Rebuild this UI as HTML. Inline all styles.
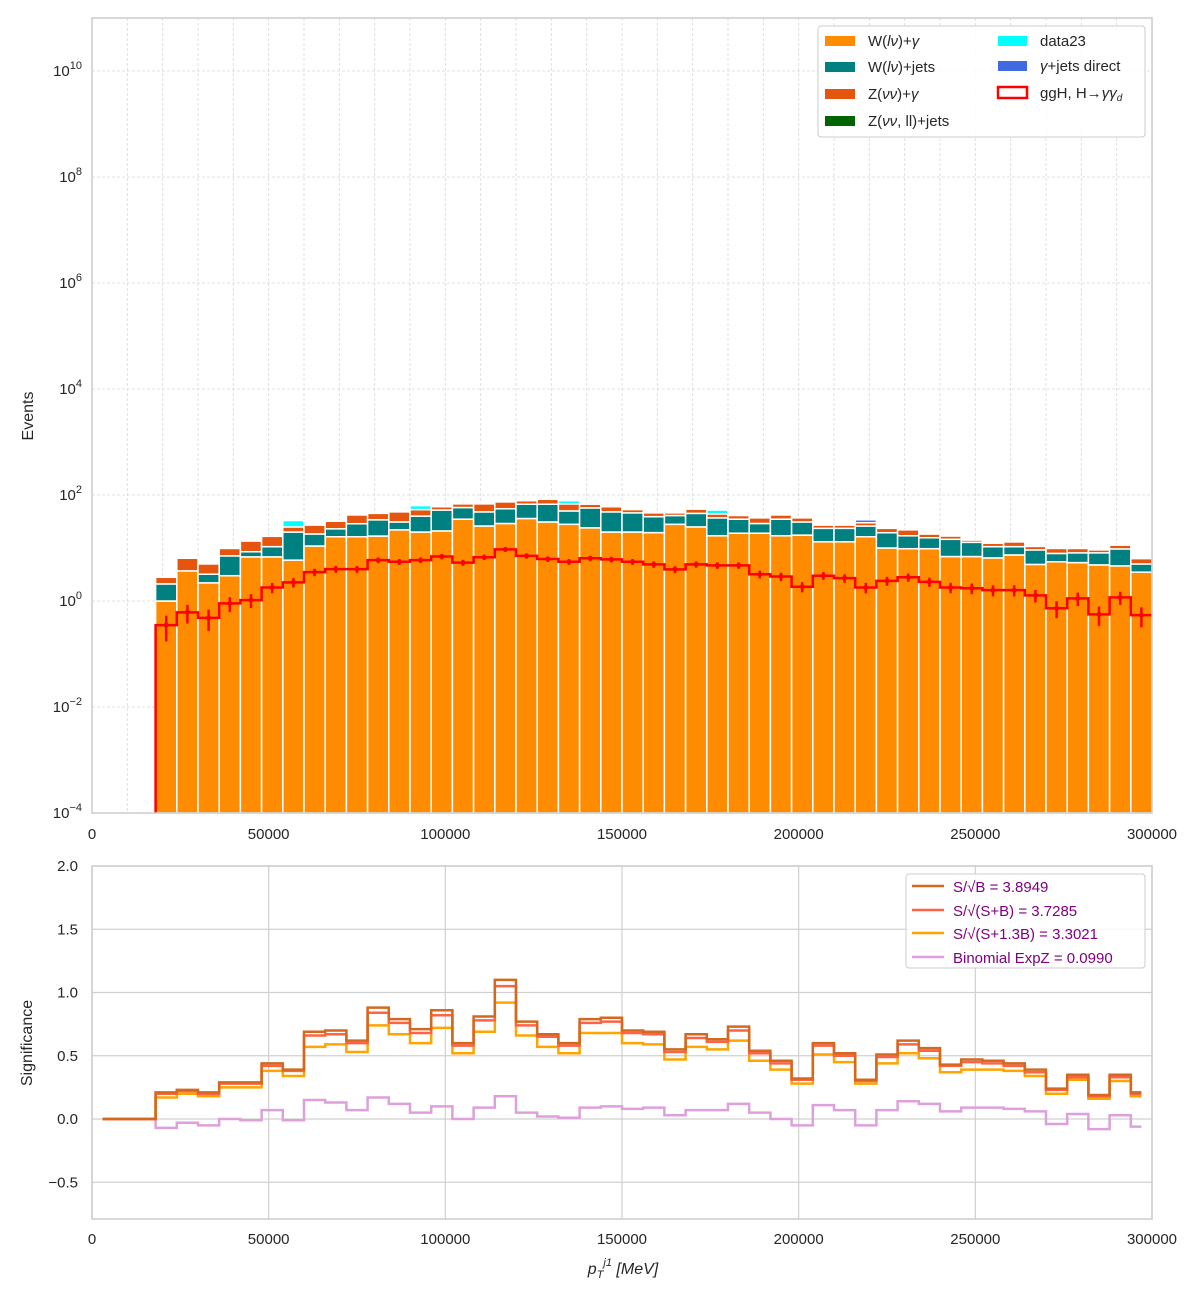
<!DOCTYPE html>
<html><head><meta charset="utf-8"><style>
html,body{margin:0;padding:0;background:#fff;}
svg{display:block;font-family:"Liberation Sans","DejaVu Sans",sans-serif;}
.tick{font-size:15px;fill:#262626;}
</style></head><body>
<svg id="chart" width="1200" height="1300" viewBox="0 0 1200 1300" xmlns="http://www.w3.org/2000/svg">
<rect x="0" y="0" width="1200" height="1300" fill="#fff"/>
<g id="top-grid"></g>
<g id="top-bars"></g>
<g id="top-signal"></g>
<rect x="92" y="18" width="1060" height="795" fill="none" stroke="#ccc" stroke-width="1.5"/>
<g id="top-ticks"></g>
<text x="33" y="416" transform="rotate(-90 33 416)" text-anchor="middle" font-size="16" fill="#262626">Events</text>

<g id="top-legend">
<rect x="818" y="26" width="327" height="111" rx="3" fill="#fff" fill-opacity="0.85" stroke="#ccc"/>
<rect x="825" y="36" width="30" height="10" fill="#ff8c00"/>
<text x="868" y="46" font-size="15" fill="#262626">W(<tspan font-style="italic">lν</tspan>)+<tspan font-style="italic">γ</tspan></text>
<rect x="825" y="62" width="30" height="10" fill="#008080"/>
<text x="868" y="72" font-size="15" fill="#262626">W(<tspan font-style="italic">lν</tspan>)+jets</text>
<rect x="825" y="89" width="30" height="10" fill="#e6550d"/>
<text x="868" y="99" font-size="15" fill="#262626">Z(<tspan font-style="italic">νν</tspan>)+<tspan font-style="italic">γ</tspan></text>
<rect x="825" y="116" width="30" height="10" fill="#006400"/>
<text x="868" y="126" font-size="15" fill="#262626">Z(<tspan font-style="italic">νν</tspan>, ll)+jets</text>
<rect x="998" y="36" width="29" height="10" fill="#00ffff"/>
<text x="1040" y="46" font-size="15" fill="#262626">data23</text>
<rect x="998" y="61" width="29" height="10" fill="#4169e1"/>
<text x="1040" y="71" font-size="15" fill="#262626"><tspan font-style="italic">γ</tspan>+jets direct</text>
<rect x="998" y="87" width="29" height="11" fill="#fff" stroke="#ff0000" stroke-width="2.5"/>
<text x="1040" y="98" font-size="15" fill="#262626">ggH, H→<tspan font-style="italic">γγ</tspan><tspan font-style="italic" font-size="10" dy="3">d</tspan></text>
</g>

<g id="bot-grid"></g>
<g id="bot-lines"></g>
<rect x="92" y="866" width="1060" height="353" fill="none" stroke="#ccc" stroke-width="1.5"/>
<g id="bot-ticks"></g>
<text x="32" y="1043" transform="rotate(-90 32 1043)" text-anchor="middle" font-size="16" fill="#262626">Significance</text>
<text x="623" y="1274" text-anchor="middle" font-size="16" fill="#262626" font-style="italic">p<tspan font-size="11" dy="4">T</tspan><tspan font-size="11" dy="-12">j1</tspan><tspan dy="8"> [MeV]</tspan></text>

<g id="bot-legend">
<rect x="906" y="874" width="239" height="94" rx="3" fill="#fff" fill-opacity="0.85" stroke="#ccc"/>
<line x1="912" y1="886" x2="944" y2="886" stroke="#d2691e" stroke-width="2.5"/>
<text x="953" y="892" font-size="15" fill="#800080">S/√B = 3.8949</text>
<line x1="912" y1="910" x2="944" y2="910" stroke="#ff6347" stroke-width="2.5"/>
<text x="953" y="916" font-size="15" fill="#800080">S/√(S+B) = 3.7285</text>
<line x1="912" y1="933" x2="944" y2="933" stroke="#ffa500" stroke-width="2.5"/>
<text x="953" y="939" font-size="15" fill="#800080">S/√(S+1.3B) = 3.3021</text>
<line x1="912" y1="957" x2="944" y2="957" stroke="#dda0dd" stroke-width="2.5"/>
<text x="953" y="963" font-size="15" fill="#800080">Binomial ExpZ = 0.0990</text>
</g>
</svg>
<script>
const binStart = 18000;
const binWidth = 6000;
const wGamma = [1.0,3.7,2.2,3.0,6.8,6.8,5.9,10.9,16.3,16.3,16.8,22,20,21,35,26,29,36,31,28,24,20,20,19.5,28,25,17,19,19,17,17.5,13.1,13.1,16.3,10,9.7,9.7,6.9,6.9,6.5,7.4,4.9,5.5,5.3,4.8,4.6,3.5];
const wJets = [1.1,0,1.0,4.1,1.7,3.8,14.1,7.5,6.7,12.4,17.2,9,20,31,23,22,26,31,36,22,33,28,26,19.5,13,20,20,16,10,18,13.5,10.4,10.4,9.7,9.4,7.3,5.9,7.7,5.9,4.1,3.2,4.3,2.4,2.8,3.3,5.0,1.5];
const zGamma = [0.7,2.7,1.8,2.7,5.0,6.0,5,8.6,9,13.3,11,17,13,8,10,20,19,11,16,18,10,12,7,7,5,9,7,6,8,7,6,3.5,3.5,4,4.1,5,2.7,2.2,1.3,1.7,2.4,1.5,1.9,1.7,1.1,1.7,1.3];
const zJets = [0,0,0,0,0,0,0,0,0,0,0,0,0,0,0,0,0,0,0,0,0,0,0,0,0,0,0,0,0,0,0,0,0,0,0,0,0,0,0,0,0,0,0,0,0,0,0];
const data23 = [0,0,0,0,0,0,8,0,0,0,0,0,10,0,0,0,0,0,0,10,0,0,0,0,0,0,8,0,0,0,0,0,0,0,0,0,0,0,0,0,0,0,0,0,0,0,0];
const gammaJets = [0,0,0,0,0,0,0,0,0,0,0,0,0,0,0,0,0,0,0,0,0,0,0,0,0,0,0,0,0,0,0,0,0,4,0,0,0,0,0,0,0,0,0,0,0,0,0];
const signal = [0.35,0.61,0.48,0.90,1.04,1.8,2.25,3.5,4.0,4.0,5.9,5.5,5.9,6.9,5.3,6.7,9.4,7.1,6.2,5.5,6.4,6.1,5.5,4.9,3.95,4.9,4.7,4.7,3.2,2.9,1.86,3.0,2.7,1.8,2.4,2.8,2.3,1.8,1.74,1.6,1.6,1.28,0.73,1.12,0.56,1.17,0.54];
const sigB = [0,0,0,0.21,0.23,0.21,0.29,0.29,0.44,0.39,0.69,0.70,0.62,0.88,0.79,0.71,0.86,0.60,0.81,1.10,0.77,0.67,0.60,0.79,0.80,0.70,0.69,0.55,0.67,0.63,0.73,0.54,0.46,0.32,0.60,0.52,0.31,0.51,0.62,0.56,0.43,0.47,0.46,0.44,0.39,0.24,0.35,0.19,0.35,0.21];
const sigSB = [0,0,0,0.20,0.22,0.20,0.28,0.28,0.42,0.38,0.66,0.67,0.60,0.84,0.76,0.68,0.82,0.58,0.78,1.05,0.74,0.65,0.58,0.76,0.77,0.68,0.67,0.53,0.64,0.61,0.70,0.52,0.44,0.31,0.58,0.50,0.30,0.49,0.59,0.54,0.42,0.45,0.44,0.42,0.37,0.23,0.33,0.18,0.33,0.20];
const sigS13B = [0,0,0,0.17,0.20,0.18,0.25,0.25,0.38,0.34,0.57,0.59,0.53,0.74,0.67,0.60,0.72,0.52,0.69,0.92,0.66,0.57,0.52,0.68,0.68,0.60,0.59,0.47,0.57,0.55,0.62,0.46,0.39,0.28,0.51,0.45,0.28,0.44,0.52,0.48,0.37,0.39,0.39,0.38,0.34,0.20,0.31,0.16,0.30,0.18];
const binomZ = [0,0,0,-0.07,-0.03,-0.05,0.00,-0.01,0.07,-0.01,0.15,0.13,0.07,0.17,0.12,0.05,0.10,0.00,0.09,0.18,0.05,0.02,0.01,0.09,0.10,0.08,0.09,0.03,0.07,0.07,0.12,0.05,0.00,-0.05,0.11,0.07,-0.05,0.07,0.14,0.12,0.06,0.09,0.09,0.08,0.06,-0.04,0.04,-0.08,0.03,-0.06];
const xTicks = [0,50000,100000,150000,200000,250000,300000];
const yTopTicks = [-4,-2,0,2,4,6,8,10];
const yBotTicks = [-0.5,0.0,0.5,1.0,1.5,2.0];
const yBotTickLabels = ["−0.5","0.0","0.5","1.0","1.5","2.0"];

const NS = "http://www.w3.org/2000/svg";
function X(v){ return 92 + v/300000*1060; }
function YT(v){ return 813 - 53*(Math.log10(v)+4); }
function YB(v){ return 1119 - 126.5*v; }
function mk(tag, attrs, parent){
  const e = document.createElementNS(NS, tag);
  for (const k in attrs) e.setAttribute(k, attrs[k]);
  parent.appendChild(e);
  return e;
}
const gTG = document.getElementById('top-grid');
for (let v=0; v<=300000; v+=10000){
  const l = mk('line',{x1:X(v),x2:X(v),y1:18,y2:813,stroke:'#d9d9d9','stroke-width':0.8,'stroke-dasharray':'3,2'},gTG);
  
  
}
for (const d of yTopTicks){
  const y = YT(Math.pow(10,d));
  const l = mk('line',{x1:92,x2:1152,y1:y,y2:y,stroke:'#d9d9d9','stroke-width':0.8,'stroke-dasharray':'3,2'},gTG);
  
  
}
const gBars = document.getElementById('top-bars');
const comps = [[wGamma,'#ff8c00','wgamma'],[wJets,'#008080','wjets'],[zGamma,'#e6550d','zgamma'],[zJets,'#006400','zjets'],[data23,'#00ffff','data23'],[gammaJets,'#4169e1','gammajets']];
for (let i=0;i<wGamma.length;i++){
  let base = 0;
  const x0 = X(binStart+i*binWidth), x1 = X(binStart+(i+1)*binWidth);
  for (const [arr,col,nm] of comps){
    const v = arr[i];
    if (v<=0) continue;
    const top = base+v;
    const yb = base>0 ? YT(base) : 813;
    const yt = YT(top);
    const r = mk('rect',{x:x0,y:yt,width:x1-x0,height:Math.max(0,yb-yt),fill:col,stroke:'#fff','stroke-width':1.5},gBars);
    
    
    base = top;
  }
}
const gSig = document.getElementById('top-signal');
let d = 'M'+X(binStart)+',813';
for (let i=0;i<signal.length;i++){
  const y = YT(signal[i]);
  d += ' L'+X(binStart+i*binWidth)+','+y+' L'+X(binStart+(i+1)*binWidth)+','+y;
}
const sp = mk('path',{d:d,fill:'none',stroke:'#ff0000','stroke-width':2.5},gSig);


for (let i=0;i<signal.length;i++){
  const v = signal[i], e = 0.3*Math.sqrt(v);
  const xc = X(binStart+(i+0.5)*binWidth);
  const eb = mk('line',{x1:xc,x2:xc,y1:YT(v+e),y2:YT(Math.max(v-e,1e-4)),stroke:'#ff0000','stroke-width':2.5},gSig);
  
  
  const pt = mk('circle',{cx:xc,cy:YT(v),r:2.5,fill:'#ff0000'},gSig);
  
  
}
const gTT = document.getElementById('top-ticks');
for (const v of xTicks){
  const t = mk('text',{x:X(v),y:839,'text-anchor':'middle',class:'tick'},gTT);
  t.textContent = String(v);
  
  
}
for (const dd of yTopTicks){
  const t = mk('text',{x:82,y:YT(Math.pow(10,dd))+5,'text-anchor':'end',class:'tick'},gTT);
  
  
  const b = mk('tspan',{},t); b.textContent='10';
  const s = mk('tspan',{dy:-7,'font-size':11},t); s.textContent = dd<0 ? '−'+(-dd) : String(dd);
}
const gBG = document.getElementById('bot-grid');
for (const v of xTicks){
  const l = mk('line',{x1:X(v),x2:X(v),y1:866,y2:1219,stroke:'#d0d0d0','stroke-width':1.2},gBG);
  
  
}
for (const v of yBotTicks){
  const l = mk('line',{x1:92,x2:1152,y1:YB(v),y2:YB(v),stroke:'#d0d0d0','stroke-width':1.2},gBG);
  
  
}
const gBL = document.getElementById('bot-lines');
const series = [[binomZ,'#dda0dd','binomial'],[sigS13B,'#ffa500','sqrts13b'],[sigSB,'#ff6347','sqrtsb'],[sigB,'#d2691e','sqrtb']];
for (const [arr,col,nm] of series){
  let p = '';
  for (let i=0;i<arr.length;i++){
    const c = 3000 + i*binWidth;
    const a = i===0 ? c : c-binWidth/2;
    const b = i===arr.length-1 ? c : c+binWidth/2;
    const y = YB(arr[i]);
    p += (i===0?'M':' L')+X(a)+','+y+' L'+X(b)+','+y;
  }
  const e = mk('path',{d:p,fill:'none',stroke:col,'stroke-width':2.5},gBL);
  
  
}
const gBT = document.getElementById('bot-ticks');
for (const v of xTicks){
  const t = mk('text',{x:X(v),y:1244,'text-anchor':'middle',class:'tick'},gBT);
  t.textContent = String(v);
  
  
}
for (let i=0;i<yBotTicks.length;i++){
  const t = mk('text',{x:78,y:YB(yBotTicks[i])+5,'text-anchor':'end',class:'tick'},gBT);
  t.textContent = yBotTickLabels[i];
  
  
}
</script>
</body></html>
